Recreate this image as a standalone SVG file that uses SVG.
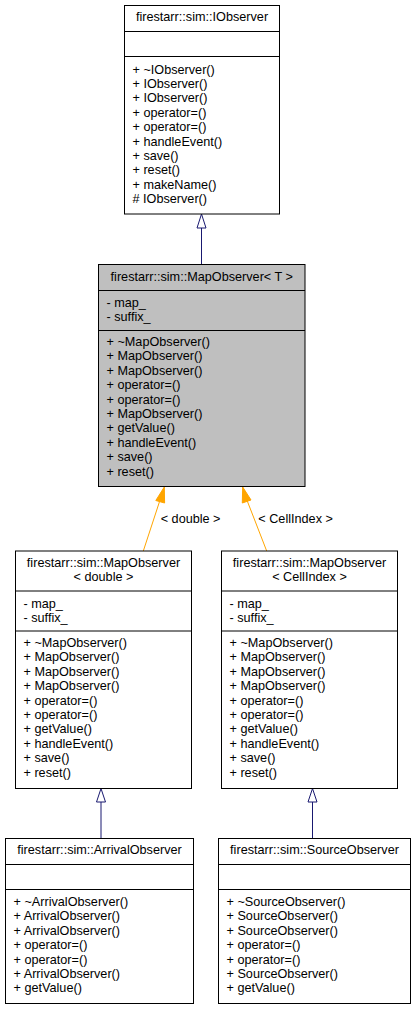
<svg xmlns="http://www.w3.org/2000/svg" width="415" height="1009" viewBox="0 0 415 1009">
<style>
text{font-family:"Liberation Sans",Arial,sans-serif;font-size:12.67px;fill:#000}
.t{text-anchor:middle}
.box{fill:#fff;stroke:#000;stroke-width:1}
.cur{fill:#bfbfbf;stroke:#000;stroke-width:1}
.sep{stroke:#000;stroke-width:1}
.inh{stroke:#191970;stroke-width:1;fill:none}
.inhh{stroke:#191970;stroke-width:1;fill:#fff}
.tpl{stroke:#ffa500;stroke-width:1;fill:none}
.tplh{stroke:#ffa500;stroke-width:1;fill:#ffa500}
</style>
<rect width="415" height="1009" fill="#fff"/>
<g id="connectors">
<line class="inh" x1="201.5" y1="228" x2="201.5" y2="264"/>
<polygon class="inhh" points="201.5,214 197,228 206,228"/>
<line class="tpl" x1="143.3" y1="551" x2="160.2" y2="499.5"/>
<polygon class="tplh" points="164.3,487 155.8,500.5 164.6,503"/>
<text x="160.7" y="522.5">&lt; double &gt;</text>
<line class="tpl" x1="266.7" y1="551" x2="246.7" y2="499.5"/>
<polygon class="tplh" points="242.7,487 242.3,503 251,500"/>
<text x="258.3" y="522.5">&lt; CellIndex &gt;</text>
<line class="inh" x1="101" y1="802" x2="101" y2="838"/>
<polygon class="inhh" points="101,788.5 96.5,802 105.5,802"/>
<line class="inh" x1="312.5" y1="802" x2="312.5" y2="838"/>
<polygon class="inhh" points="312.5,788.5 308,802 317,802"/>
</g>
<g id="IObserver">
<rect class="box" x="124.5" y="5.5" width="155" height="208.5"/>
<line class="sep" x1="124.5" y1="31.5" x2="279.5" y2="31.5"/>
<line class="sep" x1="124.5" y1="56.5" x2="279.5" y2="56.5"/>
<text class="t" x="202" y="21">firestarr::sim::IObserver</text>
<text x="132.5" y="73.5">+ ~IObserver()</text>
<text x="132.5" y="87.9">+ IObserver()</text>
<text x="132.5" y="102.3">+ IObserver()</text>
<text x="132.5" y="116.7">+ operator=()</text>
<text x="132.5" y="131.1">+ operator=()</text>
<text x="132.5" y="145.5">+ handleEvent()</text>
<text x="132.5" y="159.9">+ save()</text>
<text x="132.5" y="174.3">+ reset()</text>
<text x="132.5" y="188.7">+ makeName()</text>
<text x="132.5" y="203.1"># IObserver()</text>
</g>
<g id="MapObserverT">
<rect class="cur" x="98.5" y="264.5" width="206.5" height="222"/>
<line class="sep" x1="98.5" y1="290.5" x2="305" y2="290.5"/>
<line class="sep" x1="98.5" y1="330.5" x2="305" y2="330.5"/>
<text class="t" x="201.75" y="280.7">firestarr::sim::MapObserver&lt; T &gt;</text>
<text x="106.5" y="306.8">- map_</text>
<text x="106.5" y="321.2">- suffix_</text>
<text x="106.5" y="346">+ ~MapObserver()</text>
<text x="106.5" y="360.4">+ MapObserver()</text>
<text x="106.5" y="374.8">+ MapObserver()</text>
<text x="106.5" y="389.2">+ operator=()</text>
<text x="106.5" y="403.6">+ operator=()</text>
<text x="106.5" y="418">+ MapObserver()</text>
<text x="106.5" y="432.4">+ getValue()</text>
<text x="106.5" y="446.8">+ handleEvent()</text>
<text x="106.5" y="461.2">+ save()</text>
<text x="106.5" y="475.6">+ reset()</text>
</g>
<g id="MapObserverDouble">
<rect class="box" x="15.5" y="551" width="176" height="237.5"/>
<line class="sep" x1="15.5" y1="591" x2="191.5" y2="591"/>
<line class="sep" x1="15.5" y1="631" x2="191.5" y2="631"/>
<text class="t" x="103.5" y="566.5">firestarr::sim::MapObserver</text>
<text class="t" x="103.5" y="580.9">&lt; double &gt;</text>
<text x="23.5" y="607.5">- map_</text>
<text x="23.5" y="621.9">- suffix_</text>
<text x="23.5" y="647">+ ~MapObserver()</text>
<text x="23.5" y="661.4">+ MapObserver()</text>
<text x="23.5" y="675.8">+ MapObserver()</text>
<text x="23.5" y="690.2">+ MapObserver()</text>
<text x="23.5" y="704.6">+ operator=()</text>
<text x="23.5" y="719">+ operator=()</text>
<text x="23.5" y="733.4">+ getValue()</text>
<text x="23.5" y="747.8">+ handleEvent()</text>
<text x="23.5" y="762.2">+ save()</text>
<text x="23.5" y="776.6">+ reset()</text>
</g>
<g id="MapObserverCellIndex">
<rect class="box" x="221.5" y="551" width="176" height="237.5"/>
<line class="sep" x1="221.5" y1="591" x2="397.5" y2="591"/>
<line class="sep" x1="221.5" y1="631" x2="397.5" y2="631"/>
<text class="t" x="309.5" y="566.5">firestarr::sim::MapObserver</text>
<text class="t" x="309.5" y="580.9">&lt; CellIndex &gt;</text>
<text x="229.5" y="607.5">- map_</text>
<text x="229.5" y="621.9">- suffix_</text>
<text x="229.5" y="647">+ ~MapObserver()</text>
<text x="229.5" y="661.4">+ MapObserver()</text>
<text x="229.5" y="675.8">+ MapObserver()</text>
<text x="229.5" y="690.2">+ MapObserver()</text>
<text x="229.5" y="704.6">+ operator=()</text>
<text x="229.5" y="719">+ operator=()</text>
<text x="229.5" y="733.4">+ getValue()</text>
<text x="229.5" y="747.8">+ handleEvent()</text>
<text x="229.5" y="762.2">+ save()</text>
<text x="229.5" y="776.6">+ reset()</text>
</g>
<g id="ArrivalObserver">
<rect class="box" x="5.5" y="838.5" width="188" height="165"/>
<line class="sep" x1="5.5" y1="864.5" x2="193.5" y2="864.5"/>
<line class="sep" x1="5.5" y1="889.5" x2="193.5" y2="889.5"/>
<text class="t" x="99.5" y="854.3">firestarr::sim::ArrivalObserver</text>
<text x="13.5" y="906">+ ~ArrivalObserver()</text>
<text x="13.5" y="920.4">+ ArrivalObserver()</text>
<text x="13.5" y="934.8">+ ArrivalObserver()</text>
<text x="13.5" y="949.2">+ operator=()</text>
<text x="13.5" y="963.6">+ operator=()</text>
<text x="13.5" y="978">+ ArrivalObserver()</text>
<text x="13.5" y="992.4">+ getValue()</text>
</g>
<g id="SourceObserver">
<rect class="box" x="218.5" y="838.5" width="192" height="165"/>
<line class="sep" x1="218.5" y1="864.5" x2="410.5" y2="864.5"/>
<line class="sep" x1="218.5" y1="889.5" x2="410.5" y2="889.5"/>
<text class="t" x="314.5" y="854.3">firestarr::sim::SourceObserver</text>
<text x="226.5" y="906">+ ~SourceObserver()</text>
<text x="226.5" y="920.4">+ SourceObserver()</text>
<text x="226.5" y="934.8">+ SourceObserver()</text>
<text x="226.5" y="949.2">+ operator=()</text>
<text x="226.5" y="963.6">+ operator=()</text>
<text x="226.5" y="978">+ SourceObserver()</text>
<text x="226.5" y="992.4">+ getValue()</text>
</g>
</svg>
